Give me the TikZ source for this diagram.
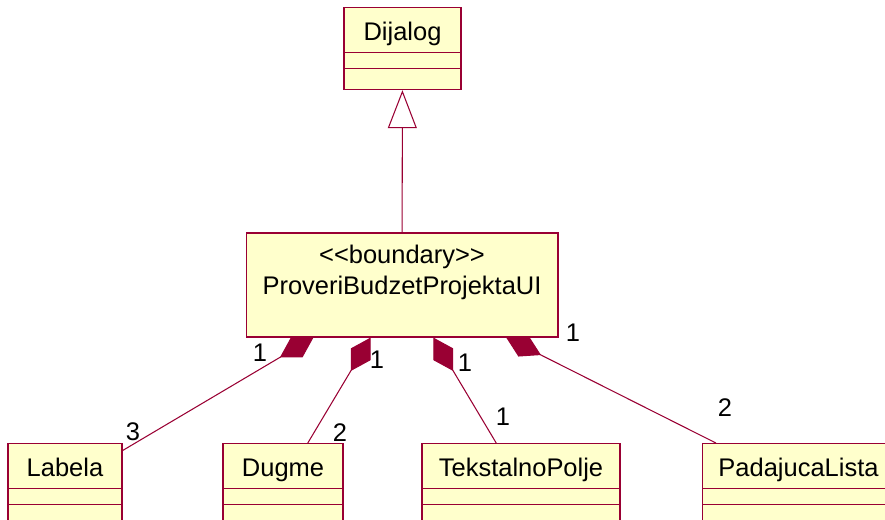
\documentclass[tikz,border=0pt]{standalone}
\usepackage{fontspec}
\newfontfamily\umlfont{Liberation Sans}
\usepackage{xcolor}
\definecolor{RoseRed}{RGB}{153,0,51}
\definecolor{RoseFill}{RGB}{255,255,204}
\usepackage{tikz}
\usetikzlibrary{shapes.multipart,arrows.meta,positioning}
% class name part and the two empty compartments
\newcommand{\clsname}[1]{\rule[-0.24cm]{0pt}{0.88cm}#1%
  \nodepart{two}\rule{0pt}{0.3cm}\nodepart{three}\rule{0pt}{0.4cm}}

\begin{document}
\begin{tikzpicture}[x=0.02cm,y=-0.02cm,
  cls/.style={rectangle split,rectangle split parts=3,draw=RoseRed,fill=RoseFill,
              inner xsep=0pt,inner ysep=0pt,anchor=north,line width=0.6pt,
              font={\umlfont\fontsize{14.5pt}{18.2pt}\selectfont}},
  bnd/.style={rectangle,draw=RoseRed,fill=RoseFill,line width=0.6pt,inner sep=0pt,
              minimum width=6.24cm,minimum height=2.08cm,align=center,
              font={\umlfont\fontsize{14.5pt}{18.2pt}\selectfont}},
  mult/.style={inner sep=0pt,font={\umlfont\fontsize{14.5pt}{18.2pt}\selectfont}},
  comp/.style={draw=RoseRed,line width=0.6pt,
               -{Diamond[length=0.78cm,width=0.46cm,fill=RoseRed]}},
  gen/.style={draw=RoseRed,line width=0.6pt,
              -{Triangle[length=0.76cm,width=0.58cm,fill=white]}}
]
  \useasboundingbox (0,0) rectangle (885,520);
  \clip (0,0) rectangle (885,520);

  \node[cls,minimum width=2.34cm] (dij) at (402.5,7) {\clsname{Dijalog}};
  \node[bnd] (ui) at (402,285)
    {\rule{0pt}{0.6cm}<<boundary>>\\ProveriBudzetProjektaUI\rule[-0.84cm]{0pt}{0.84cm}};

  \node[cls,minimum width=2.28cm] (lab) at (65,443)    {\clsname{Labela}};
  \node[cls,minimum width=2.4cm]  (dug) at (283,443)   {\clsname{Dugme}};
  \node[cls,minimum width=3.96cm] (tek) at (521,443)   {\clsname{TekstalnoPolje}};
  \node[cls,minimum width=3.86cm] (pad) at (798.5,443) {\clsname{PadajucaLista}};

  \draw[gen](ui)--(dij);
  \draw[comp](lab)--(ui); \draw[comp](dug)--(ui);
  \draw[comp](tek)--(ui); \draw[comp](pad)--(ui);

  % multiplicities
  \node[mult] (mlabUi) at (260,353) {1};
  \node[mult] (mlab)   at (133,432) {3};
  \node[mult] (mdugUi) at (377,360) {1};
  \node[mult] (mdug)   at (340,433) {2};
  \node[mult] (mtekUi) at (465,363) {1};
  \node[mult] (mtek)   at (503,417) {1};
  \node[mult] (mpadUi) at (573,333) {1};
  \node[mult] (mpad)   at (725,408) {2};
\end{tikzpicture}
\end{document}
